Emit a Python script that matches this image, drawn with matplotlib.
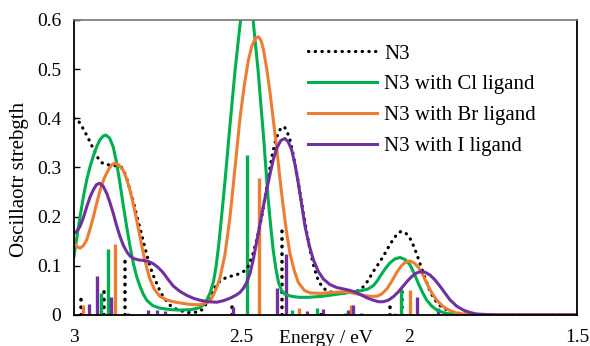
import matplotlib.pyplot as plt
from matplotlib.ticker import FuncFormatter

# broadened spectra (energy in eV, oscillator strength)
n3_e = [3.000, 2.991, 2.982, 2.967, 2.952, 2.940, 2.931, 2.921, 2.911, 2.893, 2.869, 2.858,
        2.851, 2.842, 2.833, 2.822, 2.812, 2.803, 2.794, 2.783, 2.773, 2.762, 2.752, 2.743,
        2.734, 2.714, 2.695, 2.684, 2.660, 2.630, 2.615, 2.600, 2.589, 2.579, 2.565, 2.544,
        2.525, 2.511, 2.495, 2.481, 2.468, 2.455, 2.440, 2.425, 2.410, 2.400, 2.390, 2.381,
        2.372, 2.364, 2.356, 2.346, 2.336, 2.326, 2.316, 2.306, 2.296, 2.286, 2.276, 2.266,
        2.257, 2.247, 2.237, 2.207, 2.177, 2.155, 2.138, 2.123, 2.108, 2.093, 2.078, 2.063,
        2.049, 2.036, 2.025, 2.011, 1.998, 1.987, 1.977, 1.965, 1.953, 1.941, 1.929, 1.914,
        1.899, 1.878, 1.858, 1.820, 1.780, 1.500]
n3_f = [0.400, 0.398, 0.390, 0.372, 0.352, 0.334, 0.322, 0.312, 0.307, 0.305, 0.303, 0.300,
        0.293, 0.276, 0.254, 0.228, 0.200, 0.176, 0.152, 0.123, 0.098, 0.078, 0.062, 0.048,
        0.037, 0.020, 0.012, 0.009, 0.005, 0.006, 0.012, 0.030, 0.045, 0.057, 0.069, 0.077,
        0.080, 0.083, 0.088, 0.098, 0.120, 0.153, 0.200, 0.261, 0.322, 0.352, 0.372, 0.382,
        0.382, 0.372, 0.356, 0.325, 0.289, 0.248, 0.207, 0.168, 0.132, 0.102, 0.078, 0.064,
        0.055, 0.050, 0.047, 0.045, 0.045, 0.049, 0.057, 0.070, 0.088, 0.103, 0.119, 0.137,
        0.153, 0.165, 0.170, 0.167, 0.156, 0.140, 0.122, 0.098, 0.075, 0.053, 0.036, 0.022,
        0.014, 0.008, 0.004, 0.001, 0.000, 0.000]

cl_e = [3.000, 2.991, 2.982, 2.972, 2.962, 2.952, 2.942, 2.932, 2.922, 2.913, 2.905, 2.894,
        2.883, 2.873, 2.863, 2.853, 2.843, 2.833, 2.823, 2.813, 2.803, 2.793, 2.783, 2.765,
        2.744, 2.714, 2.684, 2.650, 2.624, 2.608, 2.594, 2.584, 2.576, 2.568, 2.560, 2.550,
        2.535, 2.520, 2.505, 2.496, 2.487, 2.478, 2.466, 2.458, 2.450, 2.443, 2.435, 2.428,
        2.421, 2.413, 2.406, 2.398, 2.390, 2.381, 2.371, 2.351, 2.330, 2.300, 2.260, 2.228,
        2.177, 2.140, 2.123, 2.107, 2.095, 2.087, 2.072, 2.058, 2.043, 2.028, 2.013, 1.998,
        1.986, 1.973, 1.960, 1.948, 1.933, 1.918, 1.898, 1.879, 1.830, 1.500]
cl_f = [0.119, 0.160, 0.200, 0.240, 0.275, 0.302, 0.324, 0.343, 0.357, 0.364, 0.366, 0.360,
        0.342, 0.310, 0.268, 0.223, 0.180, 0.140, 0.105, 0.078, 0.058, 0.042, 0.030, 0.019,
        0.014, 0.011, 0.010, 0.011, 0.015, 0.025, 0.045, 0.068, 0.100, 0.145, 0.200, 0.270,
        0.385, 0.495, 0.590, 0.630, 0.648, 0.640, 0.600, 0.545, 0.490, 0.430, 0.365, 0.300,
        0.236, 0.178, 0.132, 0.094, 0.066, 0.050, 0.042, 0.038, 0.036, 0.036, 0.038, 0.041,
        0.046, 0.050, 0.053, 0.060, 0.070, 0.079, 0.094, 0.106, 0.114, 0.117, 0.113, 0.102,
        0.085, 0.064, 0.045, 0.030, 0.018, 0.010, 0.005, 0.002, 0.000, 0.000]

br_e = [3.000, 2.991, 2.982, 2.972, 2.962, 2.952, 2.942, 2.932, 2.922, 2.910, 2.897, 2.888,
        2.878, 2.866, 2.853, 2.843, 2.833, 2.823, 2.813, 2.803, 2.793, 2.783, 2.773, 2.760,
        2.744, 2.724, 2.704, 2.670, 2.644, 2.624, 2.604, 2.593, 2.585, 2.575, 2.565, 2.550,
        2.535, 2.520, 2.505, 2.492, 2.480, 2.470, 2.460, 2.450, 2.442, 2.435, 2.425, 2.415,
        2.405, 2.395, 2.386, 2.376, 2.366, 2.356, 2.343, 2.331, 2.313, 2.296, 2.266, 2.230,
        2.197, 2.177, 2.157, 2.137, 2.117, 2.097, 2.082, 2.067, 2.052, 2.038, 2.025, 2.013,
        1.998, 1.986, 1.973, 1.960, 1.948, 1.933, 1.918, 1.899, 1.879, 1.859, 1.839, 1.790,
        1.500]
br_f = [0.146, 0.139, 0.136, 0.141, 0.153, 0.175, 0.200, 0.228, 0.254, 0.278, 0.296, 0.305,
        0.309, 0.305, 0.294, 0.277, 0.254, 0.225, 0.193, 0.158, 0.125, 0.096, 0.072, 0.052,
        0.038, 0.031, 0.027, 0.023, 0.021, 0.021, 0.025, 0.031, 0.040, 0.055, 0.075, 0.122,
        0.198, 0.298, 0.400, 0.468, 0.518, 0.546, 0.562, 0.566, 0.558, 0.540, 0.500, 0.450,
        0.393, 0.336, 0.278, 0.220, 0.168, 0.125, 0.090, 0.066, 0.050, 0.045, 0.044, 0.046,
        0.047, 0.046, 0.043, 0.040, 0.038, 0.038, 0.043, 0.053, 0.069, 0.086, 0.099, 0.107,
        0.110, 0.106, 0.097, 0.082, 0.064, 0.045, 0.030, 0.017, 0.009, 0.004, 0.002, 0.000,
        0.000]

i_e = [3.000, 2.991, 2.982, 2.972, 2.962, 2.952, 2.942, 2.933, 2.924, 2.913, 2.902, 2.893,
       2.883, 2.873, 2.863, 2.853, 2.843, 2.833, 2.823, 2.808, 2.793, 2.778, 2.763, 2.748,
       2.734, 2.719, 2.704, 2.684, 2.664, 2.644, 2.624, 2.600, 2.574, 2.555, 2.535, 2.515,
       2.505, 2.495, 2.485, 2.475, 2.465, 2.455, 2.445, 2.435, 2.425, 2.415, 2.405, 2.395,
       2.383, 2.371, 2.361, 2.351, 2.341, 2.331, 2.321, 2.311, 2.298, 2.286, 2.271, 2.256,
       2.237, 2.217, 2.197, 2.177, 2.160, 2.147, 2.127, 2.107, 2.092, 2.078, 2.063, 2.048,
       2.033, 2.018, 2.006, 1.993, 1.980, 1.968, 1.953, 1.938, 1.923, 1.908, 1.893, 1.879,
       1.859, 1.839, 1.819, 1.799, 1.740, 1.500]
i_f = [0.166, 0.171, 0.180, 0.198, 0.220, 0.240, 0.255, 0.265, 0.268, 0.262, 0.247, 0.229,
       0.207, 0.182, 0.160, 0.142, 0.129, 0.120, 0.115, 0.112, 0.111, 0.109, 0.104, 0.096,
       0.086, 0.072, 0.059, 0.048, 0.040, 0.034, 0.030, 0.027, 0.026, 0.029, 0.034, 0.041,
       0.046, 0.054, 0.066, 0.085, 0.114, 0.150, 0.186, 0.222, 0.256, 0.288, 0.318, 0.340,
       0.355, 0.359, 0.352, 0.336, 0.306, 0.268, 0.224, 0.180, 0.140, 0.112, 0.088, 0.073,
       0.062, 0.056, 0.053, 0.050, 0.046, 0.042, 0.035, 0.030, 0.027, 0.027, 0.030, 0.037,
       0.047, 0.059, 0.069, 0.078, 0.085, 0.088, 0.087, 0.081, 0.071, 0.058, 0.044, 0.031,
       0.018, 0.010, 0.005, 0.002, 0.000, 0.000]

# stick spectra (transition energies and strengths)
n3_stick_e = [2.979, 2.911, 2.847, 2.529, 2.381, 2.263, 2.058, 2.023]
n3_stick_f = [0.040, 0.057, 0.114, 0.030, 0.183, 0.015, 0.020, 0.051]
cl_stick_e = [2.920, 2.900, 2.483, 2.351, 2.276, 2.192, 2.061, 2.026]
cl_stick_f = [0.045, 0.134, 0.325, 0.010, 0.015, 0.005, 0.005, 0.052]
br_stick_e = [2.972, 2.877, 2.449, 2.329, 2.175, 2.044, 1.998, 1.896]
br_stick_f = [0.020, 0.144, 0.279, 0.015, 0.020, 0.005, 0.050, 0.005]
i_stick_e = [2.954, 2.932, 2.891, 2.839, 2.779, 2.752, 2.729, 2.526, 2.395, 2.367, 2.304,
             2.256, 2.183, 2.168, 2.145, 1.978, 1.914]
i_stick_f = [0.022, 0.080, 0.037, 0.005, 0.010, 0.010, 0.008, 0.016, 0.055, 0.124, 0.008,
             0.012, 0.010, 0.020, 0.005, 0.036, 0.015]

labels = ["N3", "N3 with Cl ligand", "N3 with Br ligand", "N3 with I ligand"]
colors = ["black", "#00b050", "#ed7d31", "#7030a0"]

plt.rcParams['font.family'] = 'serif'
plt.rcParams['font.serif'] = ['Liberation Serif', 'DejaVu Serif']

fig = plt.figure(figsize=(5.9, 3.46), dpi=100)
ax = fig.add_axes([0.1254, 0.0896, 0.8526, 0.8526])

dot = (0, (0.1, 2.0))

ax.vlines(n3_stick_e, 0, n3_stick_f, colors=colors[0], lw=2.6, linestyles=[dot], capstyle='round')
ax.vlines(cl_stick_e, 0, cl_stick_f, colors=colors[1], lw=2.4)
ax.vlines(br_stick_e, 0, br_stick_f, colors=colors[2], lw=2.4)
ax.vlines(i_stick_e, 0, i_stick_f, colors=colors[3], lw=2.4)

ax.plot(n3_e, n3_f, color=colors[0], lw=2.3, linestyle=dot, dash_capstyle='round', label=labels[0])
ax.plot(cl_e, cl_f, color=colors[1], lw=2.2, label=labels[1])
ax.plot(br_e, br_f, color=colors[2], lw=2.2, label=labels[2])
ax.plot(i_e, i_f, color=colors[3], lw=2.2, label=labels[3])

ax.set_xlim(3, 1.5)
ax.set_ylim(0, 0.6)
ax.set_xticks([3, 2.5, 2, 1.5])
ax.set_xticklabels(["3", "2.5", "2", "1.5"])
ax.set_yticks([0, 0.1, 0.2, 0.3, 0.4, 0.5, 0.6])
ax.yaxis.set_major_formatter(FuncFormatter(lambda v, p: "0" if v == 0 else f"{v:.1f}"))
ax.tick_params(axis='x', length=0, pad=10, labelsize=14)
ax.tick_params(axis='y', direction='in', length=4, width=1, pad=9, labelsize=14)

for s in ['left', 'right', 'bottom']:
    ax.spines[s].set_color('black')
    ax.spines[s].set_linewidth(1.3)
ax.spines['top'].set_color('#777777')
ax.spines['top'].set_linewidth(1.2)

ax.set_xlabel("Energy / eV", fontsize=14)
ax.xaxis.set_label_coords(0.5, -0.078)
ax.xaxis.label.set_va('center')
ax.set_ylabel("Oscillaotr strebgth", fontsize=15)
ax.yaxis.set_label_coords(-0.089, 0.46)

ax.legend(loc='upper left', bbox_to_anchor=(0.437, 0.968), frameon=False, fontsize=15,
          handlelength=3.3, handletextpad=0.35, labelspacing=0.54, borderpad=0.2)

fig.savefig("out.png", dpi=100)
